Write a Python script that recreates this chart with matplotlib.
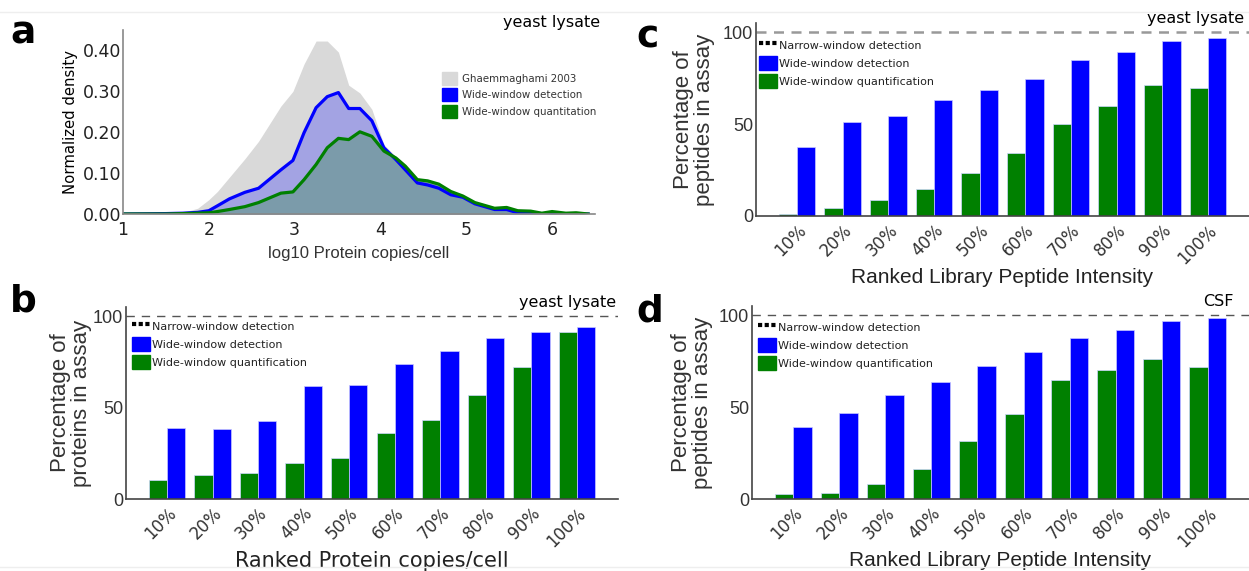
import matplotlib
matplotlib.use("Agg")
import matplotlib.pyplot as plt
from matplotlib.lines import Line2D
from matplotlib.patches import Patch
import numpy as np

W, H = 1249, 571

# --- panel a: abundance distributions ---------------------------------------
log_copies = [1.0, 1.5, 1.7, 1.87, 2.0, 2.1, 2.24, 2.42, 2.58, 2.84, 2.98, 3.11,
              3.25, 3.38, 3.51, 3.63, 3.76, 3.9, 4.04, 4.18, 4.29, 4.43, 4.55,
              4.68, 4.82, 4.96, 5.1, 5.33, 5.47, 5.6, 5.75, 5.88, 6.0, 6.16,
              6.28, 6.42]
ghaem_density = [0.0, 0.001, 0.004, 0.014, 0.035, 0.055, 0.09, 0.135, 0.178,
                 0.264, 0.300, 0.367, 0.423, 0.423, 0.396, 0.315, 0.296, 0.256,
                 0.17, 0.14, 0.12, 0.088, 0.084, 0.076, 0.058, 0.047, 0.031,
                 0.016, 0.018, 0.010, 0.008, 0.003, 0.007, 0.003, 0.004, 0.0]
wide_det_density = [0.0, 0.001, 0.002, 0.004, 0.008, 0.02, 0.037, 0.053, 0.063,
                    0.108, 0.131, 0.199, 0.26, 0.287, 0.297, 0.258, 0.258,
                    0.228, 0.162, 0.133, 0.108, 0.076, 0.071, 0.063, 0.047,
                    0.041, 0.025, 0.011, 0.011, 0.003, 0.002, 0.001, 0.001,
                    0.0, 0.0, 0.0]
wide_quant_density = [0.0, 0.0, 0.001, 0.002, 0.003, 0.006, 0.011, 0.018, 0.028,
                      0.051, 0.054, 0.084, 0.121, 0.162, 0.185, 0.182, 0.201,
                      0.19, 0.154, 0.137, 0.117, 0.084, 0.081, 0.073, 0.055,
                      0.044, 0.028, 0.014, 0.016, 0.008, 0.007, 0.002, 0.006,
                      0.002, 0.003, 0.0]

# --- panels b-d: percentage per decile -------------------------------------
deciles = ["10%", "20%", "30%", "40%", "50%", "60%", "70%", "80%", "90%", "100%"]

b_quant = [10.6, 13.3, 14.4, 19.5, 22.6, 36.1, 43.2, 56.9, 72.3, 91.1]
b_detect = [38.7, 38.5, 42.9, 61.9, 62.2, 73.9, 80.8, 88.3, 91.1, 94.0]

c_quant = [1.1, 4.4, 8.7, 14.5, 23.5, 34.4, 50.0, 59.6, 71.1, 69.6]
c_detect = [37.8, 50.9, 54.4, 63.3, 68.7, 74.5, 84.9, 89.3, 95.3, 96.9]

d_quant = [2.9, 3.4, 8.3, 16.5, 31.8, 46.5, 65.0, 70.2, 75.9, 71.7]
d_detect = [39.4, 47.0, 56.8, 63.5, 72.2, 80.0, 87.7, 91.7, 96.9, 98.5]

narrow_level = 100

BLUE = "#0000ff"
GREEN = "#008000"
ARIAL = "Liberation Sans"

fig = plt.figure(figsize=(W / 100, H / 100), dpi=100)


def px_axes(left, top, right, bottom):
    return fig.add_axes([left / W, 1 - bottom / H, (right - left) / W, (bottom - top) / H])


def style_spines(ax, color):
    for s in ("top", "right"):
        ax.spines[s].set_visible(False)
    for s in ("left", "bottom"):
        ax.spines[s].set_color(color)
        ax.spines[s].set_linewidth(1.2)
    ax.tick_params(length=0)


# faint frame lines at the top and bottom of the figure
fig.add_artist(Line2D([0, 1], [1 - 12 / H, 1 - 12 / H], color="#eeeeee", lw=1))
fig.add_artist(Line2D([0, 1], [1 - 567 / H, 1 - 567 / H], color="#eeeeee", lw=1))

# ----- a -----
ax = px_axes(123, 30, 595, 214)
x = np.array(log_copies)
ax.fill_between(x, ghaem_density, color="#d9d9d9", lw=0)
ax.fill_between(x, wide_det_density, color="#a3a3e3", lw=0)
ax.fill_between(x, wide_quant_density, color="#7b9baa", lw=0)
ax.plot(x, wide_det_density, color=BLUE, lw=2.3)
ax.plot(x, wide_quant_density, color=GREEN, lw=2.3)
ax.set_xlim(1, 6.5)
ax.set_ylim(0, 0.45)
ax.set_xticks([1, 2, 3, 4, 5, 6])
ax.set_yticks([0, 0.1, 0.2, 0.3, 0.4])
ax.set_yticklabels(["0.00", "0.10", "0.20", "0.30", "0.40"])
ax.tick_params(labelsize=12.5, colors="#222222")
ax.tick_params(axis="x", pad=5)
ax.tick_params(axis="y", pad=1)
style_spines(ax, "#888888")
ax.set_xlabel("log10 Protein copies/cell", fontsize=12, family=ARIAL,
              color="#333333", labelpad=5)
ax.set_ylabel("Normalized density", fontsize=10.7, labelpad=4)
leg = ax.legend(handles=[Patch(color="#d9d9d9", label="Ghaemmaghami 2003"),
                         Patch(color=BLUE, label="Wide-window detection"),
                         Patch(color=GREEN, label="Wide-window quantitation")],
                loc="upper left", bbox_to_anchor=(442 / W, 1 - 72 / H),
                bbox_transform=fig.transFigure, frameon=False, fontsize=7.4,
                handlelength=1.5, handleheight=1.55, handletextpad=0.4,
                labelspacing=0.34, borderpad=0, borderaxespad=0)
for t in leg.get_texts():
    t.set_color("#333333")
fig.text(600 / W, 1 - 22 / H, "yeast lysate", ha="right", va="center", fontsize=11.5)
fig.text(10 / W, 1 - 33 / H, "a", ha="left", va="center", fontsize=27, fontweight="bold")


# ----- b, c, d -----
def bar_panel(box, quant, detect, ylabel, xlabel, xlabel_family, tag, tag_xy,
              note, note_xy, dash_color, dash_lw, dash_style, legend_xy, ylabel_pad):
    ax = px_axes(*box)
    pos = np.arange(len(deciles))
    ax.bar(pos - 0.2, quant, width=0.4, color=GREEN, edgecolor="#cfd8ff", lw=0.5)
    ax.bar(pos + 0.2, detect, width=0.4, color=BLUE, edgecolor="#c8c8ff", lw=0.5)
    ax.axhline(narrow_level, color=dash_color, lw=dash_lw, ls=dash_style, zorder=0)
    ax.set_xlim(-0.9, 9.9)
    ax.set_ylim(0, 105)
    ax.set_yticks([0, 50, 100])
    ax.set_xticks(pos)
    ax.set_xticklabels(deciles, rotation=45, ha="right", rotation_mode="anchor",
                       fontsize=12, color="#333333")
    ax.tick_params(axis="y", labelsize=13, colors="#333333", pad=2)
    ax.tick_params(axis="x", pad=4)
    for t in ax.get_yticklabels():
        t.set_family(ARIAL)
    style_spines(ax, "#444444")
    ax.set_ylabel(ylabel, fontsize=16, family=ARIAL, color="#333333",
                  linespacing=1.0, labelpad=ylabel_pad)
    ax.set_xlabel(xlabel, fontsize=15, family=xlabel_family, color="#222222",
                  labelpad=0)
    leg = ax.legend(handles=[Line2D([], [], color="black", ls=(0, (1, 0.6)), lw=3,
                                    label="Narrow-window detection"),
                             Patch(color=BLUE, label="Wide-window detection"),
                             Patch(color=GREEN, label="Wide-window quantification")],
                    loc="upper left", bbox_to_anchor=(legend_xy[0] / W, 1 - legend_xy[1] / H),
                    bbox_transform=fig.transFigure, frameon=False, fontsize=8,
                    handlelength=1.6, handleheight=1.53, handletextpad=0.2,
                    labelspacing=0.38, borderpad=0, borderaxespad=0)
    for t in leg.get_texts():
        t.set_color("#222222")
    fig.text(note_xy[0] / W, 1 - note_xy[1] / H, note, ha="right", va="center",
             fontsize=11.5)
    fig.text(tag_xy[0] / W, 1 - tag_xy[1] / H, tag, ha="left", va="center",
             fontsize=27, fontweight="bold")
    return ax


bar_panel((126, 307, 618, 499), b_quant, b_detect,
          "Percentage of\nproteins in assay", "Ranked Protein copies/cell",
          "DejaVu Sans", "b", (10, 302), "yeast lysate", (616, 302),
          "#555555", 1.0, (0, (6, 5)), (132, 319), 1)
bar_panel((756, 23, 1249, 216), c_quant, c_detect,
          "Percentage of\npeptides in assay", "Ranked Library Peptide Intensity",
          ARIAL, "c", (636, 38), "yeast lysate", (1244, 19),
          "#999999", 1.8, (0, (4, 3)), (759, 38), 6)
bar_panel((752, 306, 1249, 499), d_quant, d_detect,
          "Percentage of\npeptides in assay", "Ranked Library Peptide Intensity",
          ARIAL, "d", (636, 311), "CSF", (1234, 302),
          "#555555", 1.0, (0, (6, 5)), (758, 320), 4)

fig.savefig("out.png", dpi=100, facecolor="white")
